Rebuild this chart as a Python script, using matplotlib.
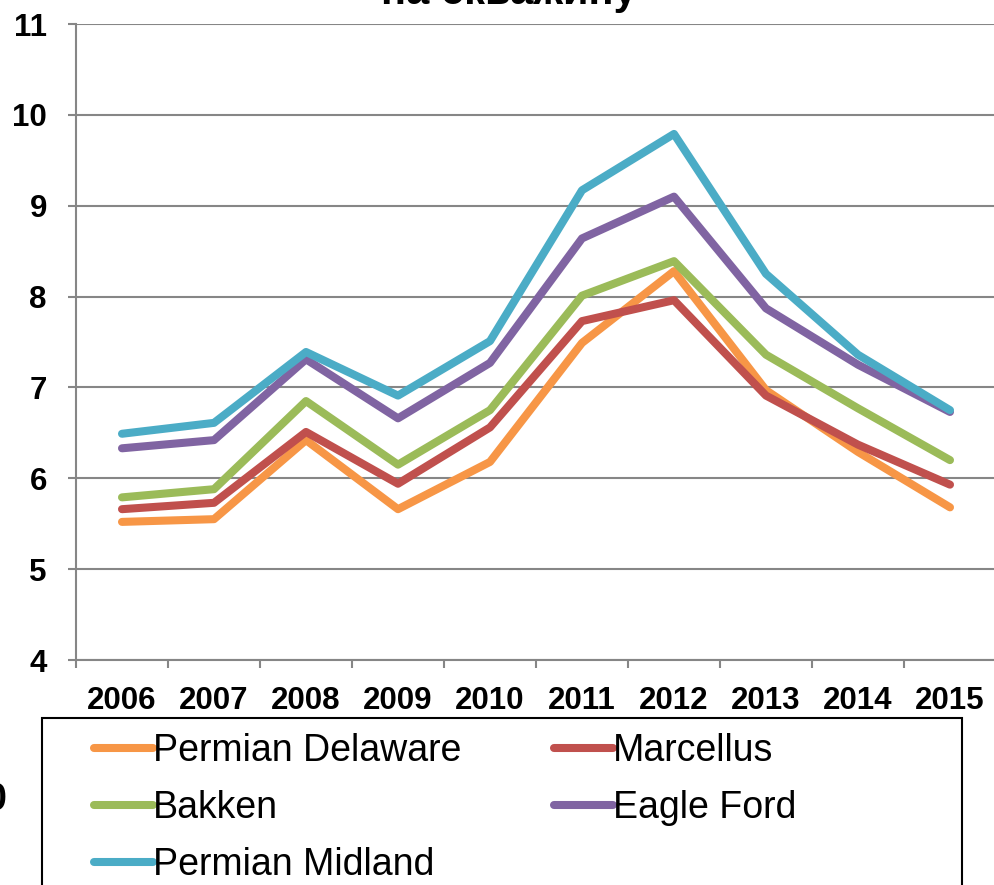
import matplotlib.pyplot as plt
import numpy as np
from matplotlib.patches import Rectangle

plt.rcParams['font.family'] = ['Liberation Sans', 'DejaVu Sans']

years = ['2006', '2007', '2008', '2009', '2010', '2011', '2012', '2013', '2014', '2015']
permian_delaware = [5.52, 5.55, 6.42, 5.66, 6.18, 7.49, 8.28, 6.97, 6.29, 5.68]
marcellus = [5.66, 5.73, 6.51, 5.94, 6.56, 7.73, 7.96, 6.91, 6.37, 5.93]
bakken = [5.79, 5.88, 6.85, 6.15, 6.75, 8.01, 8.39, 7.36, 6.77, 6.20]
eagle_ford = [6.33, 6.42, 7.31, 6.66, 7.27, 8.64, 9.10, 7.87, 7.25, 6.73]
permian_midland = [6.49, 6.61, 7.39, 6.91, 7.51, 9.17, 9.79, 8.25, 7.36, 6.75]

W, H = 994, 885
fig = plt.figure(figsize=(W/100, H/100), dpi=100)
ax = fig.add_axes([76/W, 1-660/H, 920/W, 636/H])

x = np.arange(len(years))
lw = 5.8
l1, = ax.plot(x, permian_delaware, color='#F79646', lw=lw, label='Permian Delaware', solid_capstyle='round')
l2, = ax.plot(x, marcellus, color='#C0504D', lw=lw, label='Marcellus', solid_capstyle='round')
l3, = ax.plot(x, bakken, color='#9BBB59', lw=lw, label='Bakken', solid_capstyle='round')
l4, = ax.plot(x, eagle_ford, color='#8064A2', lw=lw, label='Eagle Ford', solid_capstyle='round')
l5, = ax.plot(x, permian_midland, color='#4BACC6', lw=lw, label='Permian Midland', solid_capstyle='round')

ax.set_xlim(-0.5, 9.5)
ax.set_ylim(4, 11)
ax.set_yticks(range(4, 12))
ax.set_xticks(x)
ax.set_xticklabels(years)
ax.set_xticks(np.arange(-0.5, 10, 1), minor=True)
ax.grid(axis='y', color='#868686', lw=1.5)
ax.set_axisbelow(True)
for s in ['top', 'right']:
    ax.spines[s].set_visible(False)
ax.spines['left'].set_color('#868686')
ax.spines['bottom'].set_color('#868686')
ax.spines['left'].set_linewidth(1.5)
ax.spines['bottom'].set_linewidth(1.5)
ax.tick_params(axis='y', length=6, width=1.5, color='#868686', pad=15, labelsize=22.5)
ax.tick_params(axis='x', which='major', length=0, pad=18.5, labelsize=22.5)
ax.tick_params(axis='x', which='minor', length=6, width=1.5, color='#868686')
for t in ax.get_xticklabels() + ax.get_yticklabels():
    t.set_fontweight('bold')

fig.text(509/W, 1-4/H, 'на скважину', ha='center', va='baseline', fontsize=30, fontweight='bold')
fig.text(6/W, 1-800/H, '0', ha='right', va='center', fontsize=27, fontweight='bold')

fig.patches.append(Rectangle((42/W, -0.05), 920/W, 0.05 + 1-718/H, transform=fig.transFigure,
                             fill=False, edgecolor='black', lw=1.5))
leg = fig.legend([l1, l3, l5, l2, l4], ['Permian Delaware', 'Bakken', 'Permian Midland', 'Marcellus', 'Eagle Ford'],
                 ncol=2, loc='upper left', bbox_to_anchor=(60/W, 1-699/H), frameon=False,
                 fontsize=27, handlelength=1.57, handletextpad=0.0, columnspacing=2.48, labelspacing=0.56)

plt.savefig('out.png', dpi=100)
